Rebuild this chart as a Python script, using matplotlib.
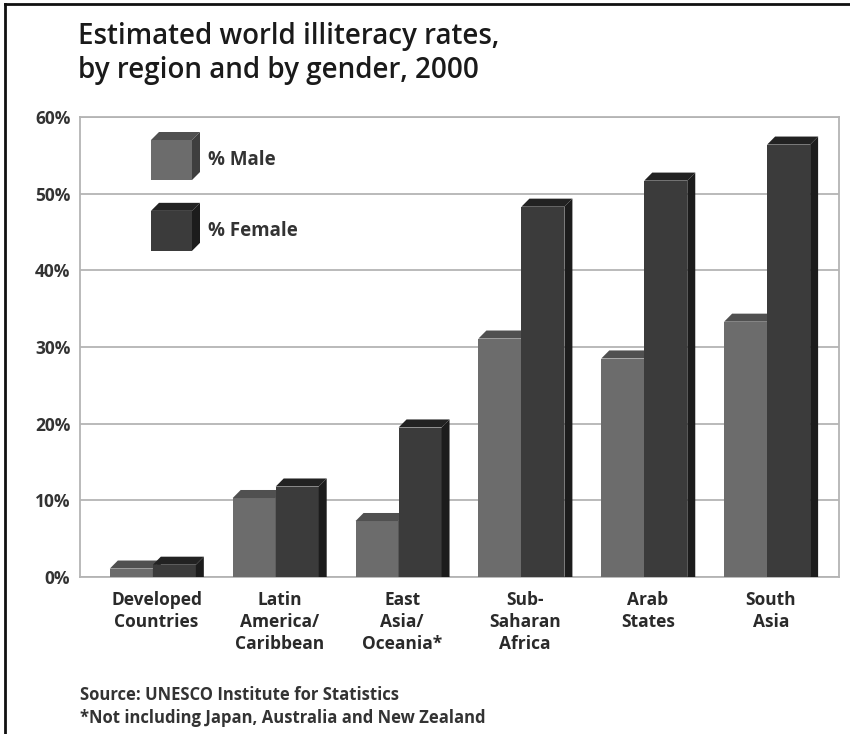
import matplotlib.pyplot as plt
from matplotlib.patches import Polygon, Rectangle
from matplotlib.lines import Line2D
import numpy as np

plt.rcParams['font.family'] = ['Open Sans', 'DejaVu Sans']

# data
regions = ['Developed\nCountries', 'Latin\nAmerica/\nCaribbean', 'East\nAsia/\nOceania*',
           'Sub-\nSaharan\nAfrica', 'Arab\nStates', 'South\nAsia']
male = [1.1, 10.3, 7.3, 31.1, 28.5, 33.3]
female = [1.6, 11.8, 19.5, 48.3, 51.7, 56.4]
yticks = [0, 10, 20, 30, 40, 50, 60]

c_male = ('#6c6c6c', '#505050', '#3e3e3e')      # front, top, side
c_female = ('#3b3b3b', '#222222', '#1c1c1c')

fig = plt.figure(figsize=(8.5, 7.34), dpi=100)
W, H = 850, 734
ax = fig.add_axes([80 / W, 1 - 577 / H, (839 - 80) / W, (577 - 117) / H])

w = 0.35          # bar width
dx, dy = 0.065, 1.05   # depth of the fake 3d
x = np.arange(len(regions))


def bar3d(ax, left, h, cols):
    ax.add_patch(Rectangle((left, 0), w, h, facecolor=cols[0], edgecolor='none', zorder=3))
    ax.add_patch(Polygon([(left, h), (left + dx, h + dy), (left + w + dx, h + dy), (left + w, h)],
                         closed=True, facecolor=cols[1], edgecolor='none', zorder=3))
    ax.add_patch(Polygon([(left + w, 0), (left + w, h), (left + w + dx, h + dy), (left + w + dx, 0)],
                         closed=True, facecolor=cols[2], edgecolor='none', zorder=3))


for i in range(len(regions)):
    bar3d(ax, x[i] - w, male[i], c_male)
    bar3d(ax, x[i], female[i], c_female)

ax.set_xlim(-0.593, 5.585)
ax.set_ylim(0, 60)
ax.set_yticks(yticks)
ax.set_yticklabels([f'{t}%' for t in yticks], fontsize=12.5, fontweight='bold', color='#333333')
ax.yaxis.grid(True, color='#b4b4b4', linewidth=1.3, zorder=0)
ax.set_axisbelow(True)
ax.tick_params(axis='y', length=0, pad=7)
ax.set_xticks(x + 0.03)
ax.set_xticklabels(regions, fontsize=12.5, fontweight='bold', color='#2a2a2a', linespacing=1.3)
ax.tick_params(axis='x', length=0, pad=10)
for s in ax.spines.values():
    s.set_color('#b4b4b4')
    s.set_linewidth(1.3)

# legend drawn as little cubes
lx0, lx1 = (151 - 80) / 759, (192 - 80) / 759
ldx, ldy = 8 / 759, 8 / 460
for (yb, yt), cols, lab in [((0.863, 0.950), c_male, '% Male'),
                            ((0.709, 0.796), c_female, '% Female')]:
    ax.add_patch(Rectangle((lx0, yb), lx1 - lx0, yt - yb, transform=ax.transAxes,
                           facecolor=cols[0], edgecolor='none', zorder=4))
    ax.add_patch(Polygon([(lx0, yt), (lx0 + ldx, yt + ldy), (lx1 + ldx, yt + ldy), (lx1, yt)],
                         transform=ax.transAxes, facecolor=cols[1], edgecolor='none', zorder=4))
    ax.add_patch(Polygon([(lx1, yb), (lx1, yt), (lx1 + ldx, yt + ldy), (lx1 + ldx, yb + ldy)],
                         transform=ax.transAxes, facecolor=cols[2], edgecolor='none', zorder=4))
    ax.text((208 - 80) / 759, (yb + yt) / 2, lab, transform=ax.transAxes, fontsize=13.5,
            fontweight='bold', color='#333333', va='center', ha='left')

# title and notes
fig.text(78 / W, 1 - 44 / H, 'Estimated world illiteracy rates,', fontsize=20, fontweight='semibold',
         color='#1a1a1a', va='baseline', ha='left')
fig.text(78 / W, 1 - 78 / H, 'by region and by gender, 2000', fontsize=20, fontweight='semibold',
         color='#1a1a1a', va='baseline', ha='left')
fig.text(80 / W, 1 - 700 / H, 'Source: UNESCO Institute for Statistics', fontsize=12,
         fontweight='bold', color='#333333', va='baseline')
fig.text(80 / W, 1 - 723 / H, '*Not including Japan, Australia and New Zealand', fontsize=12,
         fontweight='bold', color='#333333', va='baseline')

# outer frame (left and top edges only show)
fig.add_artist(Line2D([5 / W, 5 / W], [0, 1 - 4 / H], color='#111111', linewidth=2))
fig.add_artist(Line2D([5 / W, 1], [1 - 4 / H, 1 - 4 / H], color='#111111', linewidth=2))

fig.savefig('out.png', dpi=100)
